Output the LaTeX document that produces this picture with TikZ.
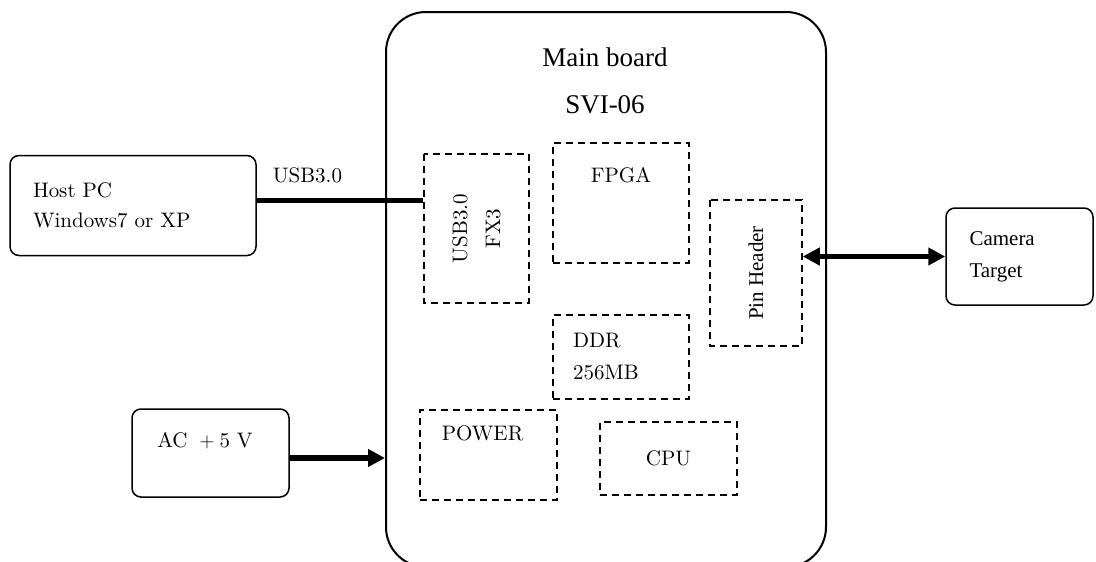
\documentclass[tikz,border=0pt]{standalone}
\usepackage{fontspec}
\setmainfont{lmroman10-regular}[Extension=.otf]
\newfontfamily\tms{Liberation Serif}
\usetikzlibrary{arrows.meta,positioning}

\begin{document}
\begin{tikzpicture}[x=1pt,y=-1pt,
	every node/.style={font=\fontsize{21}{30}\selectfont},
	outer/.style={draw,line width=1.5pt,rounded corners=9pt,inner sep=0pt},
	part/.style={draw,line width=1.5pt,dash pattern=on 7pt off 5pt,inner sep=0pt},
	link/.style={line width=5.5pt},
	tip/.tip={Triangle[length=17pt,width=17pt]},
	flow/.style={line width=5.5pt,-tip}]

\useasboundingbox (0,0) rectangle (1096,562);

%Hauptplatine
\node[draw,line width=2pt,rounded corners=40pt,inner sep=0pt,
	minimum width=440pt,minimum height=555pt]	(board)	at (606,289.5)	{};
\node[align=center,font=\tms\fontsize{27}{47}\selectfont]	(title)	at (605,81)	{Main board\\SVI-06};

%Externe Geraete
\node[outer,minimum width=246pt,minimum height=100pt,text width=200pt,
	inner xsep=23pt,align=left]	(host)	at (133,205.5)	{Host PC\\Windows7 or XP};
\node[outer,minimum width=147pt,minimum height=97pt,text width=100pt,
	inner xsep=23.5pt,align=left,font=\tms\fontsize{21}{32}\selectfont]	(cam)	at (1019.5,256.5)	{Camera\\Target};
\node[outer,minimum width=157pt,minimum height=88pt]	(ac)	at (210.5,453)	{};
\node	(actxt)	at (205,441)	{AC\hspace{12pt}$+$\hspace{5pt}5 V};

%Bausteine
\node[part,rotate=90,minimum width=149pt,minimum height=105pt,align=center,
	font=\fontsize{21}{33}\selectfont]	(fx3)	at (476.5,228.5)	{USB3.0\\FX3};
\node[part,minimum width=136pt,minimum height=120pt]	(fpga)	at (621,203)	{};
\node[below=22pt of fpga.north]	(fpgatxt)	{FPGA};
\node[part,minimum width=136pt,minimum height=84pt,text width=96pt,inner xsep=20pt,
	align=left,font=\fontsize{21}{32}\selectfont]	(ddr)	at (621,357)	{DDR\\256MB};
\node[part,rotate=90,minimum width=146pt,minimum height=92pt,
	font=\tms\fontsize{21}{24}\selectfont]	(pin)	at (756,273)	{Pin Header};
\node[part,minimum width=137pt,minimum height=90pt]	(power)	at (488.5,455)	{};
\node[below=13pt of power.north,xshift=-6pt]	(powertxt)	{POWER};
\node[part,minimum width=137pt,minimum height=73pt]	(cpu)	at (668.5,458.5)	{CPU};

%Verbindungen
\coordinate	(usbin)	at ([yshift=5pt]host.east);
\draw[link]	(usbin) -- (usbin -| fx3.north);
\node	(usblbl)	at (307.5,175)	{USB3.0};
\draw[line width=5pt,tip-tip]	(cam.west -| pin.south) -- (cam.west);
\coordinate	(acout)	at ([yshift=-5pt]ac.east);
\draw[flow]	(acout) -- (acout -| board.west);

\end{tikzpicture}
\end{document}
